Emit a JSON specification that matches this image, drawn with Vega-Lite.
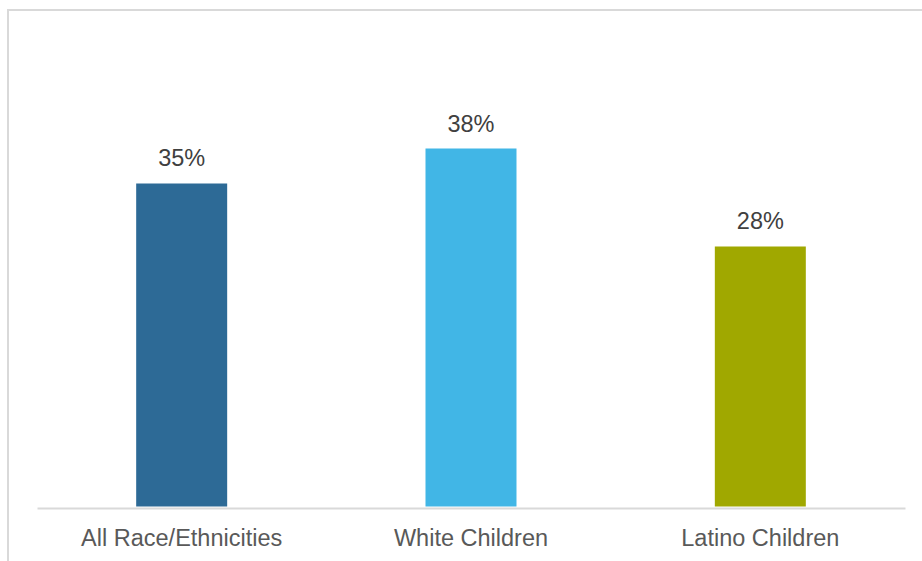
{
  "$schema": "https://vega.github.io/schema/vega-lite/v6.json",
  "autosize": {"type": "none"},
  "padding": {"left": 8, "top": 10, "right": 0, "bottom": 0},
  "width": 930,
  "height": 570,
  "background": "white",
  "config": {
    "view": {"stroke": "#d9d9d9", "strokeWidth": 2},
    "font": "Liberation Sans"
  },
  "data": {
    "values": [
      {"group": "All Race/Ethnicities", "value": 0.3462},
      {"group": "White Children", "value": 0.3837},
      {"group": "Latino Children", "value": 0.2787}
    ]
  },
  "encoding": {
    "x": {
      "field": "group",
      "type": "nominal",
      "sort": null,
      "scale": {"range": [29, 897], "paddingInner": 0.6855, "paddingOuter": 0.3428},
      "axis": {
        "title": null,
        "labelAngle": 0,
        "labelFont": "Liberation Sans",
        "labelFontSize": 23.5,
        "labelColor": "#595959",
        "labelBaseline": "alphabetic",
        "labelPadding": 37,
        "labelLimit": 0,
        "ticks": false,
        "domainColor": "#d9d9d9",
        "domainWidth": 2,
        "offset": -72
      }
    },
    "y": {
      "field": "value",
      "type": "quantitative",
      "scale": {"domain": [0, 0.5], "range": [496.5, 30], "nice": false},
      "axis": null
    }
  },
  "layer": [
    {
      "mark": {"type": "bar"},
      "encoding": {
        "color": {
          "field": "group",
          "type": "nominal",
          "sort": null,
          "scale": {"range": ["#2D6A96", "#41B6E6", "#A0A800"]},
          "legend": null
        }
      }
    },
    {
      "mark": {"type": "text", "baseline": "alphabetic", "dy": -17, "fontSize": 23.5, "color": "#404040", "font": "Liberation Sans"},
      "encoding": {
        "text": {"field": "value", "type": "quantitative", "format": ".0%"}
      }
    }
  ]
}
